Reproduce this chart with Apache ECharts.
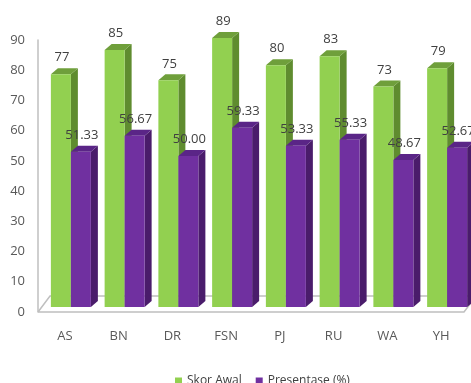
<!DOCTYPE html>
<html>
<head>
<meta charset="utf-8">
<script src="https://cdn.jsdelivr.net/npm/echarts@6/dist/echarts.min.js"></script>
<style>
  html, body { margin: 0; padding: 0; background: #fff; }
  #chart { width: 471px; height: 383px; }
</style>
</head>
<body>
<div id="chart"></div>
<script>
// data
const categories = ['AS', 'BN', 'DR', 'FSN', 'PJ', 'RU', 'WA', 'YH'];
const skorAwal = [77, 85, 75, 89, 80, 83, 73, 79];
const presentase = [51.33, 56.67, 50.00, 59.33, 53.33, 55.33, 48.67, 52.67];
const yTicks = { min: 0, max: 90, interval: 10 };

const FONT = "'Liberation Sans Narrow', 'Open Sans', sans-serif";
const DX = 7, DY = -6, LIFT = 5, BAR_W = 20;

// 3D bar renderer: front face + side + top
function bar3d(offset, colors, fmt) {
  return function (params, api) {
    const top = api.coord([api.value(0), api.value(1)]);
    const base = api.coord([api.value(0), 0]);
    const xl = top[0] + offset, xr = xl + BAR_W;
    const yT = top[1] - LIFT, yB = base[1] - LIFT;
    return {
      type: 'group',
      children: [
        { type: 'polygon', shape: { points: [[xr, yT], [xr + DX, yT + DY], [xr + DX, yB + DY], [xr, yB]] },
          style: { fill: colors.side } },
        { type: 'polygon', shape: { points: [[xl, yT], [xl + DX, yT + DY], [xr + DX, yT + DY], [xr, yT]] },
          style: { fill: colors.top } },
        { type: 'rect', shape: { x: xl, y: yT, width: BAR_W, height: yB - yT },
          style: { fill: colors.front } },
        { type: 'text', x: xl + BAR_W / 2 + 1, y: yT + DY - 4,
          style: { text: fmt(api.value(1)), fill: '#404040', font: '13px ' + FONT,
                   align: 'center', verticalAlign: 'bottom' } }
      ]
    };
  };
}

// floor (3D base plane outline)
function floor(params, api) {
  const band = api.size([1, 0])[0];
  const a = api.coord([0, 0]), b = api.coord([categories.length - 1, 0]);
  const x0 = a[0] - band / 2, x1 = b[0] + band / 2 - 4, y0 = a[1];
  const fx = 12, fy = -16;
  return {
    type: 'polyline',
    shape: { points: [[x0, y0], [x1, y0], [x1 + fx, y0 + fy], [x0 + fx, y0 + fy], [x0, y0]] },
    style: { stroke: '#bfbfbf', lineWidth: 1.5, fill: 'none' }
  };
}

const chart = echarts.init(document.getElementById('chart'));
chart.setOption({
  animation: false,
  grid: { left: 38, right: 3, top: 40, bottom: 71 },
  legend: {
    top: 370,
    left: 170,
    icon: 'rect',
    itemWidth: 7,
    itemHeight: 7,
    itemGap: 14,
    textStyle: { color: '#404040', fontSize: 12, fontFamily: FONT },
    data: ['Skor Awal', 'Presentase (%)']
  },
  xAxis: {
    type: 'category',
    data: categories,
    axisLine: { show: false },
    axisTick: { show: false },
    axisLabel: { color: '#595959', fontSize: 13, fontFamily: FONT, margin: 18 }
  },
  yAxis: {
    type: 'value',
    min: yTicks.min,
    max: yTicks.max,
    interval: yTicks.interval,
    splitLine: { show: false },
    axisLine: { show: true, lineStyle: { color: '#bfbfbf', width: 1.5 } },
    axisTick: { show: false },
    axisLabel: { color: '#595959', fontSize: 13, fontFamily: FONT, margin: 13 }
  },
  series: [
    { type: 'custom', name: 'floor', z: 1, silent: true, renderItem: floor, data: [[0, 0]] },
    {
      type: 'custom', name: 'Skor Awal', z: 2,
      itemStyle: { color: '#92D050' },
      renderItem: bar3d(-14, { front: '#92D050', side: '#5f8c2f', top: '#6f9f3b' }, v => String(v)),
      data: skorAwal.map((v, i) => [i, v])
    },
    {
      type: 'custom', name: 'Presentase (%)', z: 3,
      itemStyle: { color: '#7030A0' },
      renderItem: bar3d(6, { front: '#7030A0', side: '#4a1c6b', top: '#5a2587' }, v => v.toFixed(2)),
      data: presentase.map((v, i) => [i, v])
    }
  ]
});
</script>
</body>
</html>
